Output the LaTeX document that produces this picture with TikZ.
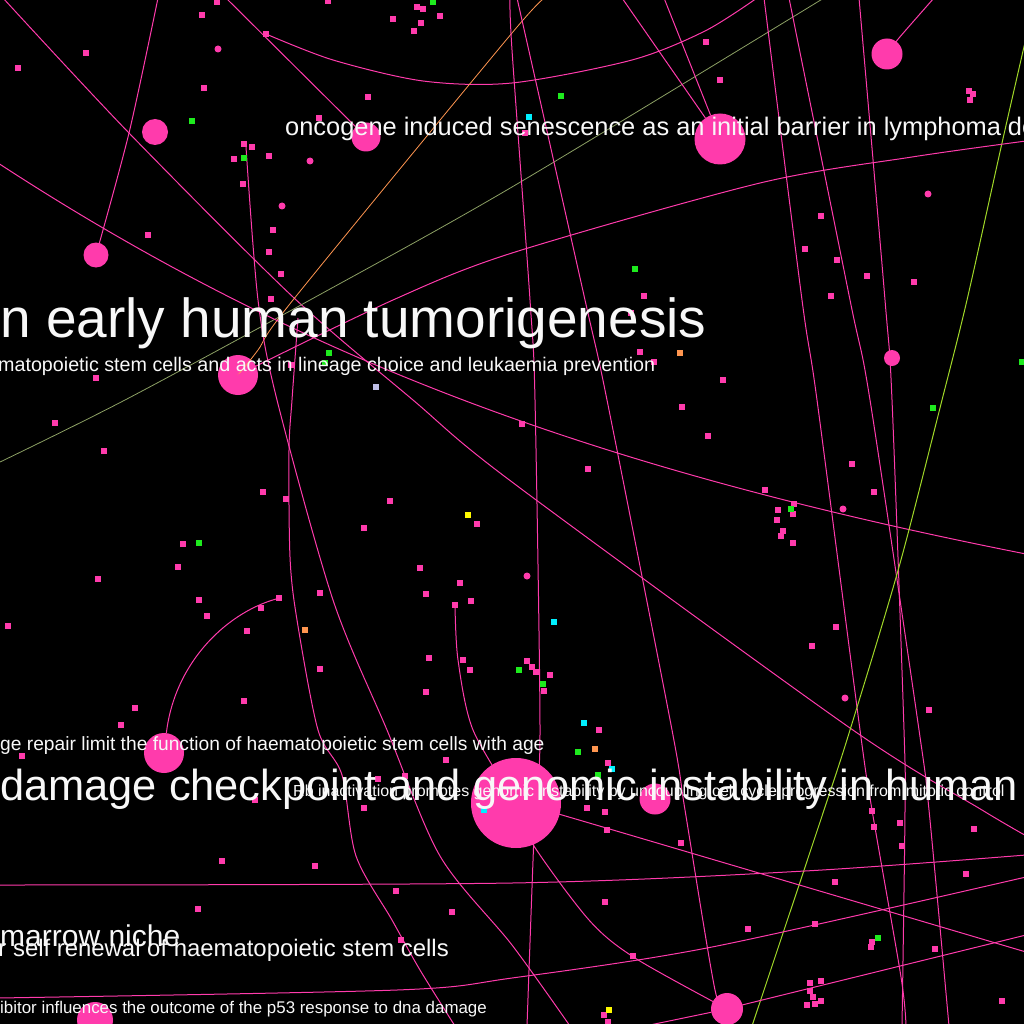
\documentclass[tikz,border=0pt]{standalone}
\usepackage{fontspec}
\setmainfont{Liberation Sans}
\definecolor{hubpink}{RGB}{255,59,172}
\definecolor{dotgreen}{RGB}{30,235,30}
\definecolor{dotcyan}{RGB}{0,240,255}
\definecolor{dotyellow}{RGB}{255,250,0}
\definecolor{dotorange}{RGB}{255,150,80}
\definecolor{dotlilac}{RGB}{190,190,230}
\definecolor{linkolive}{RGB}{140,160,100}
\definecolor{linklime}{RGB}{160,215,40}
\definecolor{titlewhite}{RGB}{248,248,248}
\begin{document}
\begin{tikzpicture}[x=1pt, y=-1pt,
  hub/.style={circle, fill=hubpink, inner sep=0pt},
  sq/.style={rectangle, fill=hubpink, inner sep=0pt, minimum size=6.5pt},
  link/.style={draw=hubpink, line width=1pt},
  lbl/.style={text=titlewhite, inner sep=0pt, anchor=base west}]

% background
\fill[black] (0,0) rectangle (1024,1024);
\useasboundingbox (0,0) rectangle (1024,1024);
\clip (0,0) rectangle (1024,1024);

% big papers
\node[hub, minimum size=26pt] (h1) at (155,132) {};
\node[hub, minimum size=25pt] (h2) at (96,255) {};
\node[hub, minimum size=29pt] (h3) at (366,137) {};
\node[hub, minimum size=51pt] (h4) at (720,139) {};
\node[hub, minimum size=31pt] (h5) at (887,54) {};
\node[hub, minimum size=40pt] (h6) at (238,375) {};
\node[hub, minimum size=16pt] (h7) at (892,358) {};
\node[hub, minimum size=40pt] (h8) at (164,753) {};
\node[hub, minimum size=90pt] (h9) at (516,803) {};
\node[hub, minimum size=31pt] (h10) at (655,799) {};
\node[hub, minimum size=32pt] (h11) at (727,1009) {};
\node[hub, minimum size=36pt] (h12) at (95,1020) {};

% small round ones
\foreach \x/\y [count=\i] in {218/49, 310/161, 282/206, 928/194, 527/576, 843/509, 845/698}
  \node[hub, minimum size=7pt] (r\i) at (\x,\y) {};

% citation links
\draw[link] plot[smooth] coordinates {(3,-2) (129,133) (293,297) (413,400) (512,482) (850,728) (982,810) (1030,838)};
\draw[link] plot[smooth] coordinates {(h2) (129,133) (158,-2)};
\draw[link] (h3) -- (226,-2);
\draw[link] plot[smooth] coordinates {(266,34) (333,60) (423,81) (512,83) (632,60) (705,31) (757,-2)};
\draw[dotorange, line width=0.8pt] plot[smooth] coordinates {(546,-2) (512,33) (293,300) (258,350) (h6)};
\draw[linkolive, line width=0.8pt] plot[smooth] coordinates {(824,-2) (512,187) (310,300) (125,400) (-2,463)};
\draw[link] plot[smooth] coordinates {(246,147) (258,300) (277,400) (333,600) (387,730) (440,856) (512,945) (570,1026)};
\draw[link] plot[smooth] coordinates {(298,318) (292,400) (289,450) (290,557) (297,620) (318,730) (342,775) (356,856) (392,920) (420,970) (455,1026)};
\draw[link] (-2,163) .. controls (300,360) and (600,470) .. (1026,554);
\draw[link] plot[smooth] coordinates {(517,-2) (585,300) (607,400) (672,730) (685,810) (715,990) (h11)};
\draw[link] plot[smooth] coordinates {(510,-2) (512,50) (530,300) (535,400) (540,730) (535,810) (527,1026)};
\draw[link] (622,-2) -- (h4);
\draw[link] (664,-2) -- (h4);
\draw[link] plot[smooth] coordinates {(764,-2) (802,300) (817,400) (860,730) (872,810) (901,977) (906,1026)};
\draw[link] plot[smooth] coordinates {(789,-2) (850,300) (870,400) (919,730) (929,810) (949,1026)};
\draw[link] plot[smooth] coordinates {(859,-2) (885,300) (892,400) (904,730) (905,810) (902,1026)};
\draw[linklime, line width=1pt] plot[smooth] coordinates {(1026,38) (1002,143) (967,300) (942,400) (899,567) (850,730) (824,810) (752,1026)};
\draw[link] plot[smooth] coordinates {(934,-2) (899,38) (h5)};
\draw[link] plot[smooth] coordinates {(h6) (393,300) (512,253) (760,183) (912,157) (1026,141)};
\draw[link] (h8) .. controls (175,660) and (230,610) .. (280,598);
\draw[link] plot[smooth] coordinates {(455,605) (458,660) (473,730) (h9)};
\draw[link] plot[smooth] coordinates {(h9) (562,815) (1026,952)};
\draw[link] plot[smooth] coordinates {(-2,885) (512,883) (805,871) (1026,855)};
\draw[link] plot[smooth] coordinates {(-2,998) (397,990) (512,978) (712,947) (1026,877)};
\draw[link] plot[smooth] coordinates {(h11) (742,1005) (1026,935)};
\draw[link] (h11) -- (645,1026);
\draw[link] plot[smooth] coordinates {(h9) (532,843) (589,920) (635,958) (h11)};

% small papers
\foreach \x/\y [count=\i] in {217/2, 202/15, 328/1, 417/7, 423/9, 393/19, 421/23, 440/16, 414/31, 266/34,
    86/53, 18/68, 204/88, 368/97, 319/118, 244/144, 252/147, 234/159, 269/156, 243/184,
    273/230, 269/252, 281/274, 148/235, 271/299, 706/42, 720/80, 525/133, 969/91, 973/94,
    970/100, 821/216, 805/249, 837/260, 867/276, 914/282, 831/296, 644/296, 631/313, 291/365,
    640/352, 654/362, 96/378, 723/380, 682/407, 708/436, 522/424, 588/469, 852/464, 55/423,
    104/451, 263/492, 286/499, 390/501, 477/524, 364/528, 183/544, 178/567, 98/579, 420/568,
    460/583, 426/594, 471/601, 455/605, 320/593, 199/600, 207/616, 279/598, 261/608, 8/626,
    247/631, 429/658, 463/660, 470/670, 426/692, 320/669, 244/701, 135/708, 121/725, 765/490,
    794/504, 778/510, 793/514, 777/520, 783/531, 781/536, 793/543, 874/492, 836/627, 812/646,
    929/710, 527/661, 532/667, 536/672, 550/675, 544/691, 599/730, 605/812, 681/843, 605/902,
    633/956, 748/929, 815/924, 835/882, 872/811, 900/823, 974/829, 966/874, 872/942, 871/947,
    935/949, 810/983, 821/981, 810/991, 813/997, 807/1005, 815/1004, 821/1001, 1002/1001, 604/1015,
    608/1022, 378/779, 405/776, 364/808, 587/808, 607/830, 874/827, 902/846, 22/756, 446/760,
    255/800, 222/861, 198/909, 315/866, 396/891, 452/912, 401/940, 608/763}
  \node[sq] (p\i) at (\x,\y) {};
\foreach \x/\y [count=\i] in {433/2, 192/121, 244/158, 561/96, 635/269, 199/543, 329/353, 325/363,
    791/509, 933/408, 519/670, 543/684, 878/938, 578/752, 598/775, 1022/362}
  \node[sq, fill=dotgreen] (g\i) at (\x,\y) {};
\foreach \x/\y [count=\i] in {529/117, 554/622, 584/723, 612/769, 484/810}
  \node[sq, fill=dotcyan] (c\i) at (\x,\y) {};
\node[sq, fill=dotyellow] (y1) at (468,515) {};
\node[sq, fill=dotyellow] (y2) at (609,1010) {};
\node[sq, fill=dotorange] (o1) at (305,630) {};
\node[sq, fill=dotorange] (o2) at (680,353) {};
\node[sq, fill=dotorange] (o3) at (595,749) {};
\node[sq, fill=dotlilac] (l1) at (376,387) {};

% titles
\node[lbl, font=\fontsize{25.4pt}{28pt}\selectfont] (t1) at (285,136) {oncogene induced senescence as an initial barrier in lymphoma development};
\node[lbl, font=\fontsize{55pt}{60pt}\selectfont] (t2) at (0,337) {n early human tumorigenesis};
\node[lbl, font=\fontsize{19.7pt}{22pt}\selectfont] (t3) at (-2,371) {matopoietic stem cells and acts in lineage choice and leukaemia prevention};
\node[lbl, font=\fontsize{19.2pt}{22pt}\selectfont] (t4) at (0,750) {ge repair limit the function of haematopoietic stem cells with age};
\node[lbl, font=\fontsize{43.4pt}{48pt}\selectfont] (t5) at (0,800) {damage checkpoint and genomic instability in human};
\node[lbl, font=\fontsize{16pt}{18pt}\selectfont] (t6) at (293,796) {Rb inactivation promotes genomic instability by uncoupling cell cycle progression from mitotic control};
\node[lbl, font=\fontsize{30pt}{34pt}\selectfont] (t7) at (0,946) {marrow niche};
\node[lbl, font=\fontsize{23.9pt}{26pt}\selectfont, anchor=base east] (t8) at (449,956) {r self renewal of haematopoietic stem cells};
\node[lbl, font=\fontsize{16.9pt}{20pt}\selectfont] (t9) at (0,1013) {ibitor influences the outcome of the p53 response to dna damage};
\end{tikzpicture}
\end{document}
